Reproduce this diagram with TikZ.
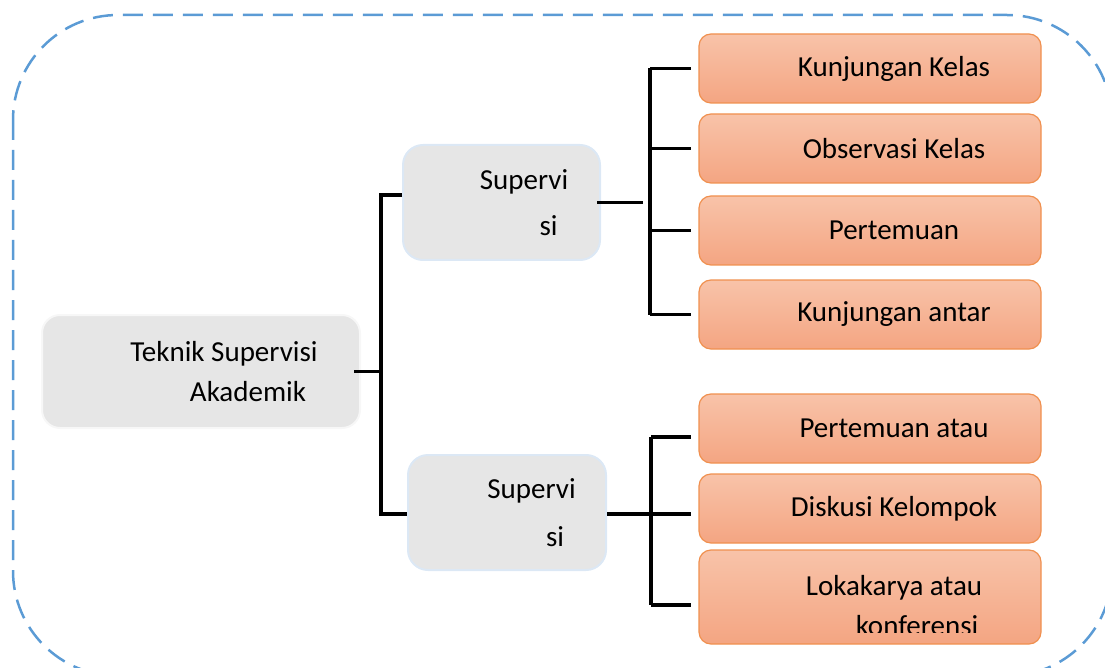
\documentclass[tikz,border=0pt]{standalone}
\usepackage{fontspec}
\setmainfont{Carlito}
\definecolor{bordbleu}{HTML}{5B9BD5}
\definecolor{grisboite}{HTML}{E6E6E6}
\definecolor{bleupale}{HTML}{DCE8F5}
\definecolor{orhaut}{HTML}{F8C3A9}
\definecolor{orbas}{HTML}{F4A582}
\definecolor{ortrait}{HTML}{F0904F}
\tikzset{
  texte/.style={font=\fontsize{29}{40}\selectfont, align=center, inner sep=0pt},
  cadre/.style={draw=bordbleu, line width=2.5pt, dash pattern=on 20pt off 10pt, rounded corners=105pt},
  racine/.style={texte, rounded corners=18pt, draw=gray!6, line width=2pt, fill=grisboite,
    minimum width=318pt, minimum height=113pt},
  branche/.style={texte, rounded corners=20pt, draw=bleupale, line width=2pt, fill=grisboite,
    minimum width=197pt, minimum height=115pt},
  technik/.style={texte, rounded corners=12pt, draw=ortrait, line width=1.2pt,
    top color=orhaut, bottom color=orbas, minimum width=342pt, minimum height=69pt},
  trait/.style={line width=3.2pt, black}
}
\begin{document}
\begin{tikzpicture}[x=1pt, y=-1pt]
        \useasboundingbox (0,0) rectangle (1105,668);
        % Cadre en pointilles
        \draw[cadre] (13,15) rectangle (1112,676);
        % Racine
        \node[racine] (tsa) at (201,371.5) {\hspace*{46pt}Teknik Supervisi\\\hspace*{94pt}Akademik};
        % Branches
        \node[branche] (sup1) at (501.5,202.5) {\hspace*{45pt}Supervi\\[6pt]\hspace*{94pt}si};
        \node[branche, minimum width=198pt] (sup2) at (507,512.5) {\hspace*{49pt}Supervi\\[8pt]\hspace*{96pt}si};
        % Techniques
        \node[technik] (k1) at (870,68.5) {\hspace*{48pt}Kunjungan Kelas};
        \node[technik] (k2) at (870,148.5) {\hspace*{48pt}Observasi Kelas};
        \node[technik] (k3) at (870,230.5) {\hspace*{48pt}Pertemuan};
        \node[technik] (k4) at (870,314.5) {\hspace*{48pt}Kunjungan antar};
        \node[technik] (k5) at (870,428.5) {\hspace*{48pt}Pertemuan atau};
        \node[technik] (k6) at (870,508.5) {\hspace*{48pt}Diskusi Kelompok};
        \node[technik, minimum height=94pt] (k7) at (870,597) {};
        % Texte coupe en bas
        \begin{scope}
          \clip (k7.north west) rectangle (1041,632);
          \node[texte] (k7txt) at ([yshift=-9pt]k7.center) {\hspace*{48pt}Lokakarya atau\\\hspace*{94pt}konferensi};
        \end{scope}
        % Liaisons racine
        \coordinate (j1) at (381,371.5);
        \draw[trait] ([xshift=-7pt]tsa.east) -- (j1);
        \draw[trait] (sup1.west |- 0,195) -- (j1 |- 0,195) -- (j1 |- 0,514) -- (sup2.west |- 0,514);
        % Liaisons branche haute
        \coordinate (j2) at (650,202.5);
        \draw[trait] ([xshift=-4pt]sup1.east) -- ([xshift=-7pt]j2);
        \draw[trait] (j2 |- k1.west) -- (j2 |- k4.west);
        \foreach \k in {k1,k2,k3,k4}
          \draw[trait] (j2 |- \k.west) -- ([xshift=-7pt]\k.west);
        % Liaisons branche basse
        \coordinate (j3) at (651,514);
        \coordinate (f6) at ([xshift=-7pt]k6.west);
        \draw[trait] (sup2.east |- j3) -- (f6 |- j3);
        \draw[trait] (j3 |- 0,437) -- (j3 |- 0,605);
        \draw[trait] (j3 |- 0,437) -- (f6 |- 0,437);
        \draw[trait] (j3 |- 0,605) -- (f6 |- 0,605);
    \end{tikzpicture}
\end{document}
